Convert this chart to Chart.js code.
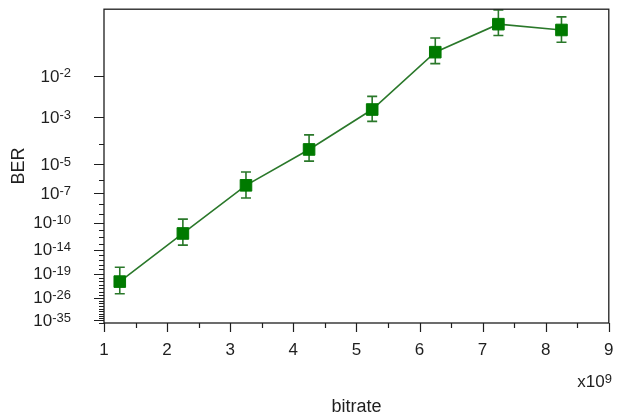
<!DOCTYPE html>
<html>
<head>
<meta charset="utf-8">
<script src="https://cdn.jsdelivr.net/npm/chart.js@4/dist/chart.umd.min.js"></script>
<style>
  html, body { margin: 0; padding: 0; background: #fff; }
  canvas { display: block; }
</style>
</head>
<body>
<canvas id="chart" width="618" height="418"></canvas>
<script>
// Bit rate in units of 10^9 bit/s
const bitrate = [1.25, 2.25, 3.25, 4.25, 5.25, 6.25, 7.25, 8.25];
// BER as base-10 exponents (BER = 10^value)
const berExp     = [-21.06, -11.42, -6.37, -4.23, -2.77, -1.62, -1.29, -1.35];
// Error bar ends, also as base-10 exponents
const berExpLow  = [-24.68, -13.21, -7.40, -4.82, -3.13, -1.79, -1.41, -1.49];
const berExpHigh = [-17.51, -9.57, -5.46, -3.61, -2.43, -1.44, -1.16, -1.22];

// Axis ranges and ticks
const xMin = 1, xMax = 9;
const xMajorTicks = [1, 2, 3, 4, 5, 6, 7, 8, 9];
const xMinorTicks = [1.5, 2.5, 3.5, 4.5, 5.5, 6.5, 7.5, 8.5];
const yMinExp = -36.2, yMaxExp = -1.153;
const yLabelExps = [-35, -26, -19, -14, -10, -7, -5, -3, -2];
const yMinorExps = [];
for (let e = -36; e <= -2; e++) yMinorExps.push(e);

// ---- Q-factor helpers: BER = Q(q) = 0.5 * erfc(q / sqrt 2) ----
function lnErfc(x) {
  const z = Math.abs(x);
  const t = 1 / (1 + 0.5 * z);
  const p = -z * z - 1.26551223 + t * (1.00002368 + t * (0.37409196 + t * (0.09678418 +
    t * (-0.18628806 + t * (0.27886807 + t * (-1.13520398 + t * (1.48851587 +
    t * (-0.82215223 + t * 0.17087277))))))));
  return Math.log(t) + p;
}
function lnQfunc(q) { return Math.log(0.5) + lnErfc(q / Math.SQRT2); }
function qFromExp(e) {
  const target = e * Math.LN10;
  let lo = 0, hi = 40;
  for (let i = 0; i < 80; i++) {
    const mid = 0.5 * (lo + hi);
    if (lnQfunc(mid) > target) lo = mid; else hi = mid;
  }
  return 0.5 * (lo + hi);
}
// Axis coordinate: log of the Q-factor
function tf(e) { return Math.log(qFromExp(e)); }

// Custom "BER" scale: values are BER exponents, spaced by log(Q)
class BerScale extends Chart.Scale {
  static id = 'ber';
  static defaults = {};
  determineDataLimits() {
    this.min = yMinExp;
    this.max = yMaxExp;
  }
  buildTicks() {
    return yMinorExps.map(v => ({ value: v }));
  }
  configure() {
    super.configure();
    this._tMin = tf(this.min);
    this._tMax = tf(this.max);
  }
  getLabelForValue(v) { return '10^' + v; }
  getPixelForValue(v) {
    return this.getPixelForDecimal((tf(v) - this._tMin) / (this._tMax - this._tMin));
  }
  getValueForPixel(p) {
    const d = this.getDecimalForPixel(p);
    const target = this._tMin + d * (this._tMax - this._tMin);
    let lo = -300, hi = Math.log10(0.5);
    for (let i = 0; i < 80; i++) {
      const mid = 0.5 * (lo + hi);
      if (tf(mid) > target) lo = mid; else hi = mid;
    }
    return 0.5 * (lo + hi);
  }
}
Chart.register(BerScale);

const FONT = '"Liberation Sans", Arial, Helvetica, sans-serif';
const AXIS_COLOR = '#1e1e1e';
const TEXT_COLOR = '#1f1f1f';
const LINE_GREEN = '#2a782a';
const MARK_GREEN = '#007a00';

function drawPower(ctx, base, exp, xRight, yMid, size, supSize) {
  ctx.font = `${size}px ${FONT}`;
  const wb = ctx.measureText(base).width;
  ctx.font = `${supSize}px ${FONT}`;
  const we = ctx.measureText(exp).width;
  ctx.textAlign = 'left';
  ctx.font = `${size}px ${FONT}`;
  ctx.textBaseline = 'middle';
  ctx.fillText(base, xRight - we - wb, yMid);
  ctx.font = `${supSize}px ${FONT}`;
  ctx.textBaseline = 'alphabetic';
  ctx.fillText(exp, xRight - we, yMid + 0.5);
}

// Error bars, drawn under the markers
const errorBars = {
  id: 'errorBars',
  beforeDatasetsDraw(chart) {
    const { ctx, scales: { x, y } } = chart;
    ctx.save();
    ctx.strokeStyle = LINE_GREEN;
    ctx.lineWidth = 1.6;
    const cap = 5;
    bitrate.forEach((b, i) => {
      const px = x.getPixelForValue(b);
      const yTop = y.getPixelForValue(berExpHigh[i]);
      const yBot = y.getPixelForValue(berExpLow[i]);
      ctx.beginPath();
      ctx.moveTo(px, yTop); ctx.lineTo(px, yBot);
      ctx.moveTo(px - cap, yTop); ctx.lineTo(px + cap, yTop);
      ctx.moveTo(px - cap, yBot); ctx.lineTo(px + cap, yBot);
      ctx.stroke();
    });
    ctx.restore();
  }
};

// Frame, tick marks, tick labels and axis titles
const frameAndAxes = {
  id: 'frameAndAxes',
  afterDraw(chart) {
    const { ctx, chartArea: a, scales: { x, y } } = chart;
    ctx.save();
    ctx.strokeStyle = AXIS_COLOR;
    ctx.lineWidth = 1.3;
    ctx.strokeRect(a.left, a.top, a.right - a.left, a.bottom - a.top);

    ctx.beginPath();
    ctx.lineWidth = 1.2;
    yMinorExps.forEach(e => {
      const py = Math.round(y.getPixelForValue(e)) + 0.5;
      if (py < a.top || py > a.bottom + 1) return;
      const len = yLabelExps.includes(e) ? 10 : 5;
      ctx.moveTo(a.left - len, py); ctx.lineTo(a.left, py);
    });
    xMajorTicks.forEach(v => {
      const px = Math.round(x.getPixelForValue(v)) + 0.5;
      ctx.moveTo(px, a.bottom); ctx.lineTo(px, a.bottom + 9);
    });
    xMinorTicks.forEach(v => {
      const px = Math.round(x.getPixelForValue(v)) + 0.5;
      ctx.moveTo(px, a.bottom); ctx.lineTo(px, a.bottom + 5);
    });
    ctx.stroke();

    ctx.fillStyle = TEXT_COLOR;
    yLabelExps.forEach(e => {
      const py = y.getPixelForValue(e);
      drawPower(ctx, '10', String(e), 71, py + 1, 17, 13);
    });

    ctx.font = `17px ${FONT}`;
    ctx.textAlign = 'center';
    ctx.textBaseline = 'middle';
    xMajorTicks.forEach(v => {
      ctx.fillText(String(v), x.getPixelForValue(v), 350);
    });

    drawPower(ctx, 'x10', '9', 612, 382, 17, 13);

    ctx.font = `18px ${FONT}`;
    ctx.textAlign = 'center';
    ctx.textBaseline = 'middle';
    ctx.fillText('bitrate', (a.left + a.right) / 2, 407);

    ctx.translate(19, (a.top + a.bottom) / 2);
    ctx.rotate(-Math.PI / 2);
    ctx.fillText('BER', 0, 0);
    ctx.restore();
  }
};

new Chart(document.getElementById('chart'), {
  type: 'line',
  data: {
    datasets: [{
      label: 'BER',
      data: bitrate.map((b, i) => ({ x: b, y: berExp[i] })),
      borderColor: LINE_GREEN,
      borderWidth: 1.6,
      backgroundColor: MARK_GREEN,
      pointStyle: 'rect',
      pointRadius: 8.2,
      pointBorderWidth: 1,
      pointBorderColor: MARK_GREEN,
      pointBackgroundColor: MARK_GREEN,
      tension: 0,
      fill: false,
      clip: 10
    }]
  },
  options: {
    responsive: false,
    animation: false,
    layout: { padding: { left: 104, top: 8, right: 5, bottom: 95 } },
    plugins: { legend: { display: false }, tooltip: { enabled: false } },
    scales: {
      x: { type: 'linear', min: xMin, max: xMax, display: false },
      y: { type: 'ber', display: false }
    }
  },
  plugins: [errorBars, frameAndAxes]
});
</script>
</body>
</html>
